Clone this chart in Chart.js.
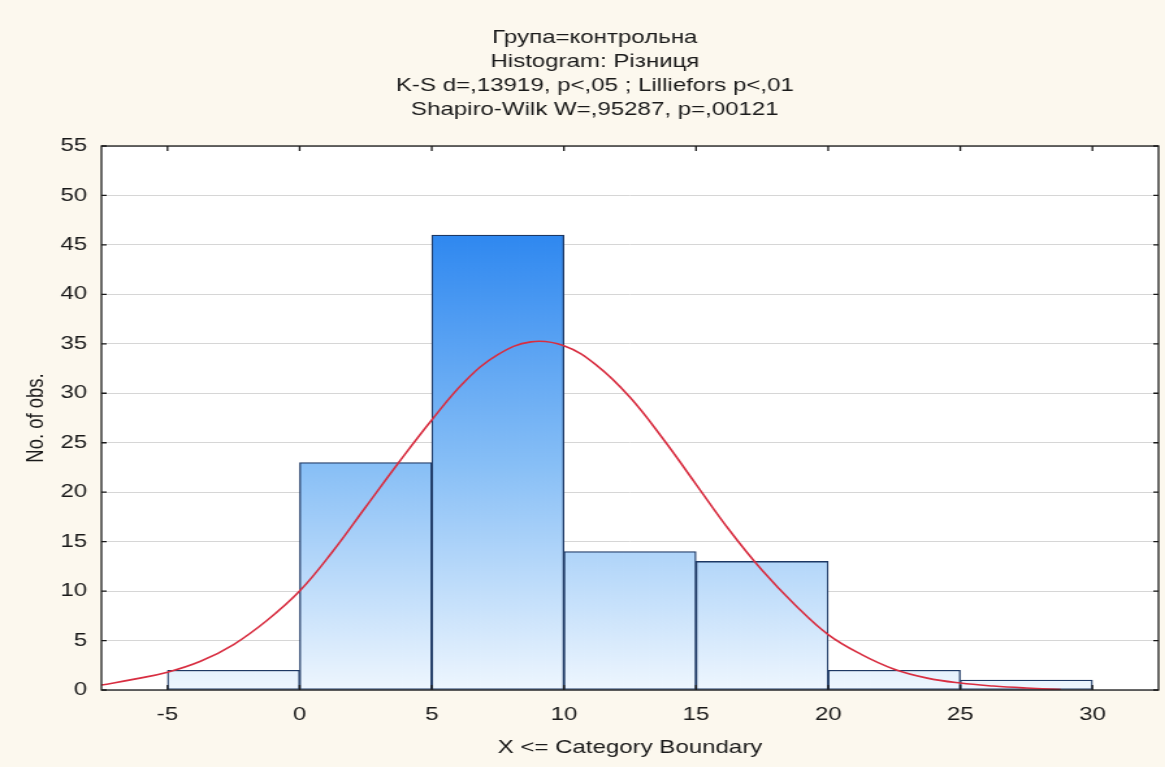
<!DOCTYPE html>
<html>
<head>
<meta charset="utf-8">
<script src="https://cdn.jsdelivr.net/npm/chart.js@4/dist/chart.umd.min.js"></script>
<style>
  html, body { margin: 0; padding: 0; background: #fcf8ee; overflow: hidden; }
  canvas { display: block; }
</style>
</head>
<body>
<canvas id="chart" width="896" height="767" style="width:1165px;height:767px"></canvas>
<script>
// the reference is a horizontally stretched screenshot, so the canvas is drawn
// narrower and stretched by css to 1165px
const titleLines = [
  'Група=контрольна',
  'Histogram: Різниця',
  'K-S d=,13919, p<,05 ; Lilliefors p<,01',
  'Shapiro-Wilk W=,95287, p=,00121'
];
const xTitle = 'X <= Category Boundary';
const yTitle = 'No. of obs.';

const binStarts = [-5, 0, 5, 10, 15, 20, 25];
const binEnds = [0, 5, 10, 15, 20, 25, 30];
const counts = [2, 23, 46, 14, 13, 2, 1];

// expected normal curve
const curveX = [-7.5, -6.25, -5, -3.75, -2.5, -1.25, 0, 1.25, 2.5, 3.75, 5, 6.25, 7.5, 8.75, 10,
  11.25, 12.5, 13.75, 15, 16.25, 17.5, 18.75, 20, 21.25, 22.5, 23.75, 25, 26.25, 27.5, 28.8];
const curveY = [0.5, 1.1, 1.8, 2.9, 4.6, 7.0, 10.0, 14, 18.5, 23, 27.3, 31.2, 33.9, 35.2, 34.8,
  32.8, 29.6, 25.4, 20.8, 16.2, 12.1, 8.6, 5.6, 3.6, 2.1, 1.2, 0.7, 0.4, 0.2, 0.05];

const xTicks = [-5, 0, 5, 10, 15, 20, 25, 30];
const yTicks = [0, 5, 10, 15, 20, 25, 30, 35, 40, 45, 50, 55];

const font = 'Liberation Sans, Arial, sans-serif';
const fontSize = 18.5;
const textColor = '#1a1a1a';

function barFill(c) {
  const chart = c.chart;
  if (!chart.chartArea) return '#8cc3f6';
  const y = chart.scales.y;
  const g = chart.ctx.createLinearGradient(0, y.getPixelForValue(46), 0, y.getPixelForValue(0));
  g.addColorStop(0, '#2f88f0');
  g.addColorStop(0.5, '#86bef6');
  g.addColorStop(1, '#eef6fe');
  return g;
}

const frame = {
  id: 'frame',
  beforeDraw(chart) {
    const { ctx, chartArea: a } = chart;
    ctx.save();
    ctx.fillStyle = '#fcf8ee';
    ctx.fillRect(0, 0, chart.width, chart.height);
    ctx.fillStyle = '#ffffff';
    ctx.fillRect(a.left, a.top, a.right - a.left, a.bottom - a.top);
    ctx.restore();
  },
  afterDraw(chart) {
    const { ctx, chartArea: a, scales } = chart;
    ctx.save();
    ctx.strokeStyle = '#1a1a1a';
    ctx.lineWidth = 1.3;
    ctx.strokeRect(a.left, a.top, a.right - a.left, a.bottom - a.top);
    ctx.beginPath();
    scales.x.ticks.forEach((t, i) => {
      const px = scales.x.getPixelForTick(i);
      ctx.moveTo(px, a.top); ctx.lineTo(px, a.top + 5);
      ctx.moveTo(px, a.bottom); ctx.lineTo(px, a.bottom - 5);
    });
    scales.y.ticks.forEach((t, i) => {
      const py = scales.y.getPixelForTick(i);
      ctx.moveTo(a.left, py); ctx.lineTo(a.left + 4, py);
      ctx.moveTo(a.right, py); ctx.lineTo(a.right - 4, py);
    });
    ctx.stroke();
    ctx.restore();
  }
};

new Chart(document.getElementById('chart'), {
  type: 'bar',
  data: {
    datasets: [{
      type: 'line',
      label: 'normal',
      data: curveX.map((x, i) => ({ x: x, y: curveY[i] })),
      borderColor: '#d82d40',
      borderWidth: 1.6,
      pointRadius: 0,
      fill: false,
      tension: 0.4,
      order: 0
    }, {
      label: 'counts',
      data: counts.map((v, i) => ({ x: (binStarts[i] + binEnds[i]) / 2, y: v })),
      backgroundColor: barFill,
      borderColor: '#1d3864',
      borderWidth: 1.3,
      borderSkipped: false,
      barPercentage: 1,
      categoryPercentage: 1,
      order: 1
    }]
  },
  options: {
    responsive: false,
    devicePixelRatio: 1,
    animation: false,
    layout: { padding: { left: 19, right: 0, top: 0, bottom: 0 } },
    plugins: {
      legend: { display: false },
      tooltip: { enabled: false },
      title: {
        display: true,
        text: titleLines,
        color: textColor,
        font: { family: font, size: fontSize, weight: 'normal', lineHeight: 24 / fontSize },
        padding: { top: 26, bottom: 24 }
      }
    },
    scales: {
      x: {
        type: 'linear',
        min: -7.5,
        max: 32.5,
        offset: false,
        afterBuildTicks: s => { s.ticks = xTicks.map(v => ({ value: v })); },
        afterFit: s => { s.height = 77; },
        grid: { display: false, drawTicks: false },
        border: { display: false },
        ticks: { color: textColor, font: { family: font, size: fontSize }, padding: 14 },
        title: {
          display: true, text: xTitle, color: textColor,
          font: { family: font, size: fontSize, lineHeight: 1 },
          padding: { top: 0, bottom: 10 }
        }
      },
      y: {
        min: 0,
        max: 55,
        afterBuildTicks: s => { s.ticks = yTicks.map(v => ({ value: v })); },
        afterFit: s => { s.width = 59; },
        grid: { color: '#d6d6d6', lineWidth: 1, drawTicks: false },
        border: { display: false },
        ticks: { color: textColor, font: { family: font, size: fontSize }, padding: 11 },
        title: {
          display: true, text: yTitle, color: textColor,
          font: { family: font, size: fontSize, lineHeight: 1 },
          padding: { top: 0, bottom: 0 }
        }
      },
      yr: {
        position: 'right',
        display: true,
        afterFit: s => { s.width = 5; },
        grid: { display: false },
        border: { display: false },
        ticks: { display: false }
      }
    }
  },
  plugins: [frame]
});
</script>
</body>
</html>
